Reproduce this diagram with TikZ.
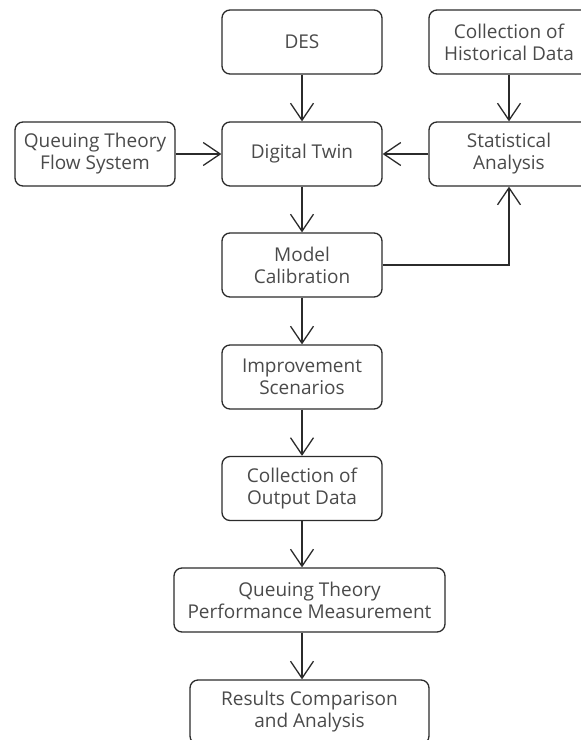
\documentclass[tikz,border=0pt]{standalone}
\usepackage{fontspec}
\setmainfont{Open Sans}
\usetikzlibrary{arrows.meta}
\definecolor{txtc}{HTML}{4A4A4A}
\definecolor{linec}{HTML}{2B2B2B}
\tikzset{
  box/.style={draw=linec, line width=1.3pt, rounded corners=8pt, minimum width=160pt,
    minimum height=64pt, align=center, text=txtc, inner sep=2pt,
    font=\fontsize{19}{22}\selectfont},
  arr/.style={draw=linec, line width=1.3pt, -{Straight Barb[length=17pt,width=23pt,line width=1.3pt]}}
}
\begin{document}
\begin{tikzpicture}[x=1pt,y=1pt]
\useasboundingbox (0,0) rectangle (581,-740);
\clip (0,0) rectangle (581,-740);
\node[box] (des) at (302,-42) {DES};
\node[box] (chd) at (509,-42) {Collection of\\Historical Data};
\node[box] (qtfs) at (95,-154) {Queuing Theory\\Flow System};
\node[box] (dt) at (302,-154) {Digital Twin};
\node[box] (sa) at (509,-154) {Statistical\\Analysis};
\node[box] (mc) at (302,-265) {Model\\Calibration};
\node[box] (is) at (302,-377) {Improvement\\Scenarios};
\node[box] (cod) at (302,-488.5) {Collection of\\Output Data};
\node[box, minimum width=271pt] (qtpm) at (309.5,-600) {Queuing Theory\\Performance Measurement};
\node[box, minimum width=239pt] (res) at (309.5,-712) {Results Comparison\\and Analysis};
\draw[arr] (des) -- (dt);
\draw[arr] (chd) -- (sa);
\draw[arr] (qtfs) -- (dt);
\draw[arr] (sa) -- (dt);
\draw[arr] (dt) -- (mc);
\draw[arr] (mc.east) -| (sa.south);
\draw[arr] (mc) -- (is);
\draw[arr] (is) -- (cod);
\draw[arr] (cod.south) -- (cod.south |- qtpm.north);
\draw[arr] (cod.south |- qtpm.south) -- (cod.south |- res.north);
\end{tikzpicture}
\end{document}
